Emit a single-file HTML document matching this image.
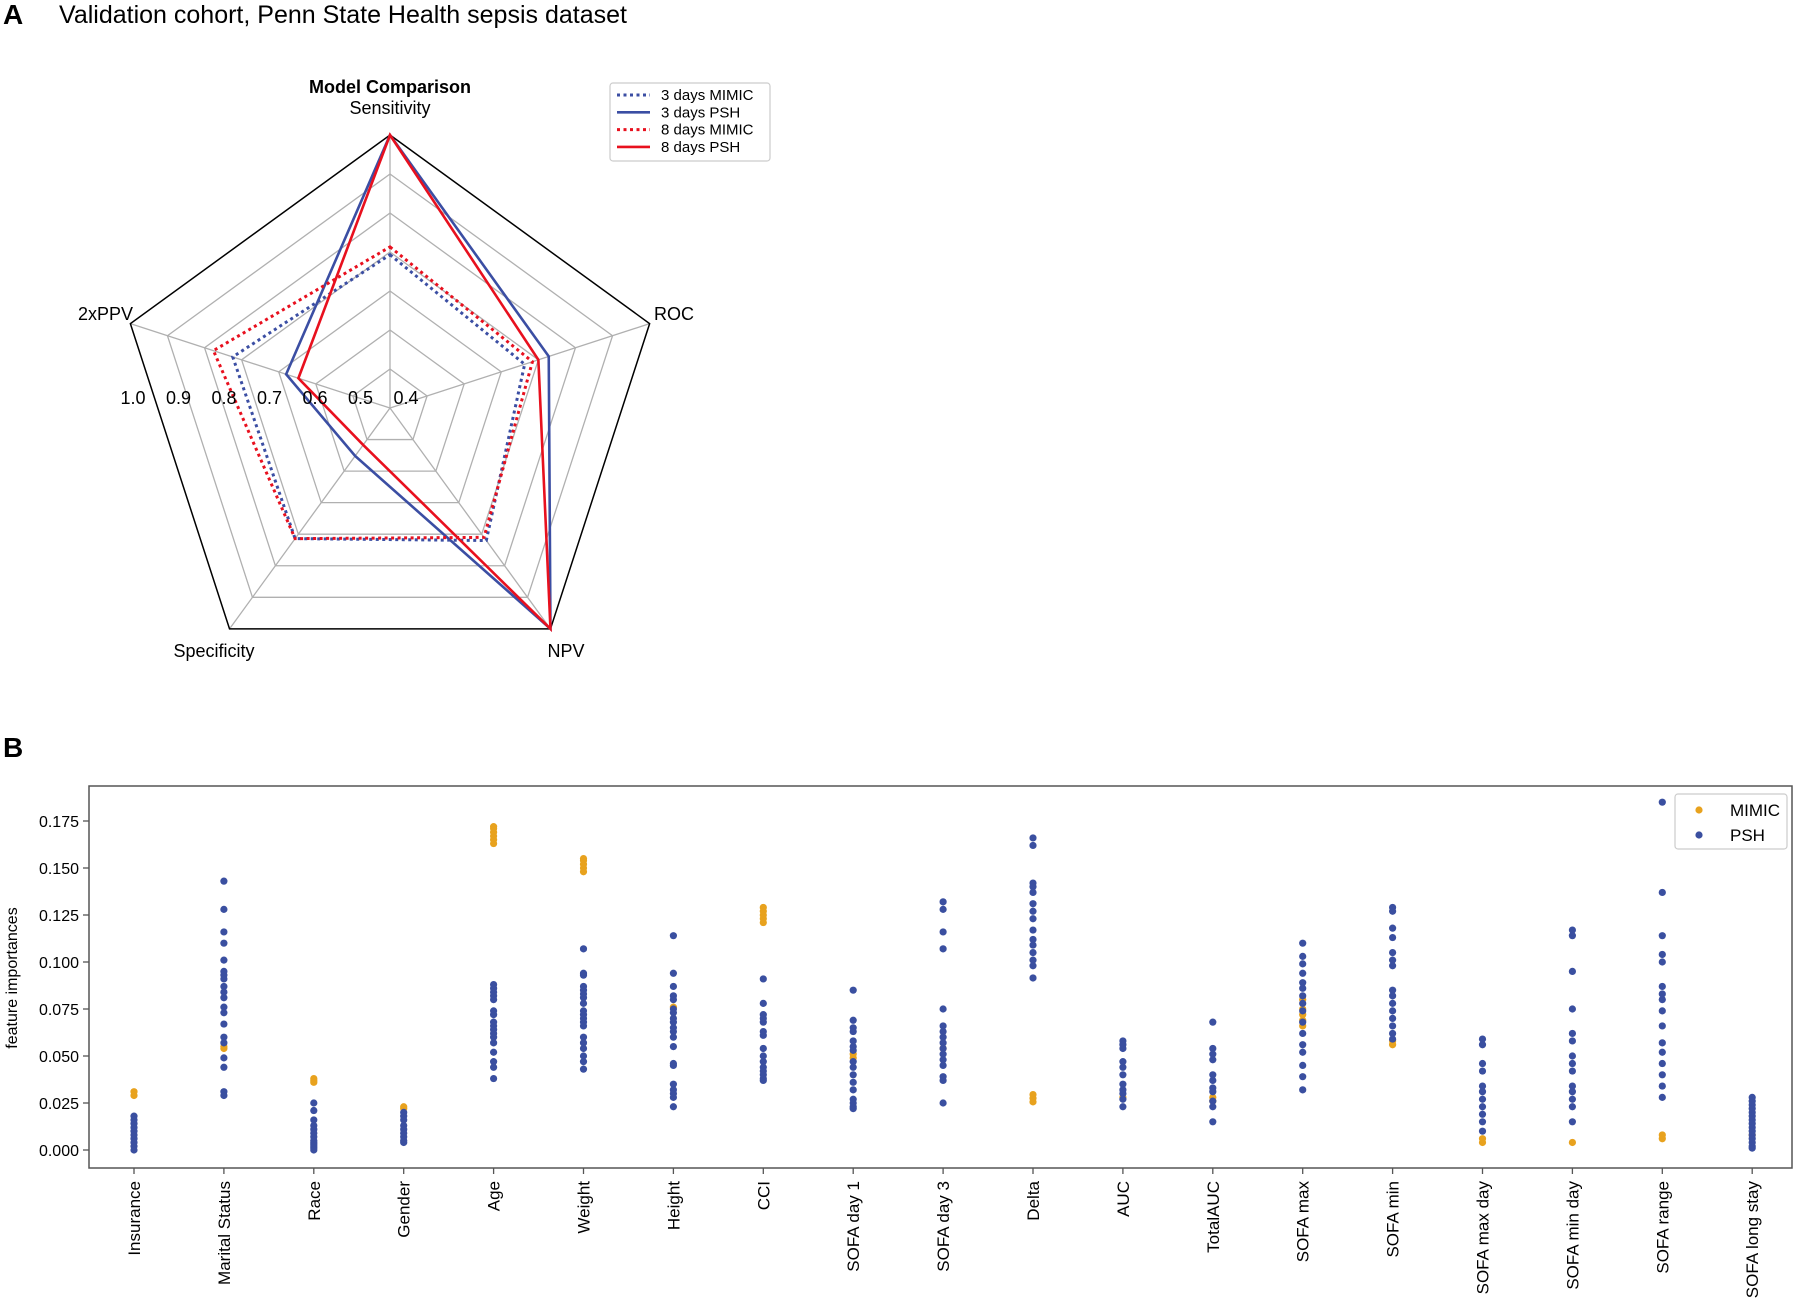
<!DOCTYPE html>
<html><head><meta charset="utf-8"><style>
body{margin:0;background:#fff;width:1800px;height:1310px;overflow:hidden}
svg{display:block;font-family:"Liberation Sans","DejaVu Sans",sans-serif}
</style></head><body>
<svg id="fig" width="1800" height="1310" viewBox="0 0 1800 1310">
<text x="3" y="24" font-size="28" font-weight="bold">A</text>
<text x="59" y="23" font-size="25">Validation cohort, Penn State Health sepsis dataset</text>
<text x="3" y="757" font-size="28" font-weight="bold">B</text>
<g id="radar"></g>
<g id="scatter"></g>
</svg>
<script>
// ---- Radar data ----
const radarAxes = ["Sensitivity","ROC","NPV","Specificity","2xPPV"];
const radarTicks = [1.0,0.9,0.8,0.7,0.6,0.5,0.4];
const s3MIMIC = [0.693,0.663,0.72,0.714,0.724];
const s3PSH   = [1.0,0.728,1.0,0.452,0.58];
const s8MIMIC = [0.713,0.684,0.71,0.714,0.776];
const s8PSH   = [1.0,0.70,1.0,0.417,0.547];
const seriesNames = ["3 days MIMIC","3 days PSH","8 days MIMIC","8 days PSH"];

// ---- Scatter data ----
const categories = ["Insurance","Marital Status","Race","Gender","Age","Weight","Height","CCI","SOFA day 1","SOFA day 3","Delta","AUC","TotalAUC","SOFA max","SOFA min","SOFA max day","SOFA min day","SOFA range","SOFA long stay"];
const yTicks = [0.000,0.025,0.050,0.075,0.100,0.125,0.150,0.175];
const yTickLabels = ["0.000","0.025","0.050","0.075","0.100","0.125","0.150","0.175"];
const psh = [
 [0.018,0.016,0.014,0.012,0.010,0.008,0.006,0.004,0.002,0.0],
 [0.143,0.128,0.116,0.110,0.101,0.095,0.093,0.091,0.087,0.084,0.081,0.076,0.073,0.067,0.060,0.057,0.049,0.044,0.031,0.029],
 [0.025,0.021,0.016,0.013,0.011,0.009,0.007,0.005,0.004,0.003,0.002,0.001,0.0],
 [0.020,0.018,0.016,0.013,0.011,0.009,0.007,0.005,0.004],
 [0.088,0.086,0.084,0.082,0.080,0.074,0.072,0.068,0.066,0.064,0.062,0.060,0.057,0.052,0.047,0.044,0.038],
 [0.107,0.094,0.093,0.087,0.085,0.083,0.081,0.078,0.074,0.072,0.070,0.068,0.066,0.060,0.057,0.054,0.050,0.047,0.043],
 [0.114,0.094,0.087,0.082,0.080,0.075,0.073,0.070,0.068,0.065,0.063,0.060,0.055,0.046,0.045,0.035,0.032,0.030,0.028,0.023],
 [0.091,0.078,0.072,0.070,0.068,0.063,0.061,0.054,0.050,0.047,0.044,0.042,0.040,0.038,0.037],
 [0.085,0.069,0.065,0.063,0.058,0.055,0.053,0.047,0.044,0.040,0.036,0.032,0.027,0.025,0.023,0.022],
 [0.132,0.128,0.116,0.107,0.075,0.066,0.063,0.060,0.057,0.054,0.051,0.048,0.045,0.039,0.037,0.025],
 [0.166,0.162,0.142,0.140,0.137,0.131,0.127,0.123,0.117,0.112,0.109,0.105,0.101,0.098,0.0915],
 [0.058,0.056,0.054,0.047,0.044,0.040,0.035,0.032,0.030,0.027,0.023],
 [0.068,0.054,0.051,0.048,0.040,0.037,0.033,0.031,0.026,0.023,0.015],
 [0.110,0.103,0.099,0.094,0.089,0.086,0.082,0.078,0.074,0.068,0.062,0.056,0.052,0.045,0.039,0.032],
 [0.129,0.127,0.118,0.113,0.105,0.101,0.098,0.085,0.082,0.078,0.074,0.070,0.066,0.062,0.059],
 [0.059,0.056,0.046,0.042,0.034,0.031,0.027,0.023,0.019,0.015,0.010],
 [0.117,0.114,0.095,0.075,0.062,0.058,0.050,0.046,0.042,0.034,0.031,0.027,0.023,0.015],
 [0.185,0.137,0.114,0.104,0.100,0.087,0.083,0.080,0.074,0.066,0.057,0.052,0.046,0.040,0.034,0.028],
 [0.028,0.026,0.024,0.022,0.020,0.018,0.016,0.014,0.012,0.010,0.008,0.006,0.004,0.002,0.001]
];
const mimic = [
 [0.029,0.031],[0.054,0.055],[0.036,0.037,0.038],[0.022,0.023],
 [0.163,0.165,0.167,0.169,0.171,0.172],[0.148,0.150,0.152,0.154,0.155],[0.076],
 [0.121,0.123,0.125,0.127,0.129],[0.049,0.051],[0.054],[0.0295,0.0275,0.0256],
 [0.028],[0.028,0.026],[0.080,0.075,0.072,0.069,0.066],[0.056,0.058],
 [0.006,0.004],[0.004],[0.008,0.006],[0.008]
];

const NS="http://www.w3.org/2000/svg";
function mk(tag,attrs,parent){const e=document.createElementNS(NS,tag);for(const k in attrs)e.setAttribute(k,attrs[k]);parent.appendChild(e);return e;}

// ---- Radar drawing ----
const radar=document.getElementById('radar');
const cx=390,cy=408,R=273,rmin=0.3,rmax=1.0;
function rScale(v){return (v-rmin)/(rmax-rmin)*R;}
function ang(i){return (90-72*i)*Math.PI/180;}
function pt(i,v){const r=rScale(v);return [cx+r*Math.cos(ang(i)),cy-r*Math.sin(ang(i))];}
[0.4,0.5,0.6,0.7,0.8,0.9].forEach(t=>{
  const p=radarAxes.map((a,i)=>pt(i,t).join(',')).join(' ');
  const g=mk('polygon',{points:p,fill:'none',stroke:'#b0b0b0','stroke-width':1.3},radar);
  
  
});
radarAxes.forEach((a,i)=>{
  const [x,y]=pt(i,1.0);
  const l=mk('line',{x1:cx,y1:cy,x2:x,y2:y,stroke:'#b0b0b0','stroke-width':1.3},radar);
  
  
});
const outer=mk('polygon',{points:radarAxes.map((a,i)=>pt(i,1.0).join(',')).join(' '),fill:'none',stroke:'#000','stroke-width':1.5},radar);


const sers=[[s3MIMIC,'#3b4ea3',true],[s3PSH,'#3b4ea3',false],[s8MIMIC,'#e8101e',true],[s8PSH,'#e8101e',false]];
sers.forEach((s,k)=>{
  const p=s[0].map((v,i)=>pt(i,v).join(',')).join(' ');
  const a={points:p,fill:'none',stroke:s[1],'stroke-width':s[2]?3:2.6,'stroke-linejoin':'miter'};
  if(s[2]) a['stroke-dasharray']='3,3.5';
  const e=mk('polygon',a,radar);
  
  
});
// tick labels
radarTicks.forEach((t,i)=>{
  const e=mk('text',{x:133+i*45.5,y:404,'font-size':18,'text-anchor':'middle'},radar);
  e.textContent=t.toFixed(1);
  
  
});
const axLab=[[390,114,'middle'],[654,320,'start'],[566,657,'middle'],[214,657,'middle'],[133,320,'end']];
radarAxes.forEach((a,i)=>{
  const e=mk('text',{x:axLab[i][0],y:axLab[i][1],'font-size':18,'text-anchor':axLab[i][2]},radar);
  e.textContent=a;
  
  
});
const mt=mk('text',{x:390,y:93,'font-size':18,'font-weight':'bold','text-anchor':'middle'},radar);
mt.textContent='Model Comparison';


// radar legend
const lg=mk('g',{},radar);


mk('rect',{x:610,y:83,width:160,height:78,rx:3,fill:'#fff',stroke:'#ccc','stroke-width':1.2},lg);
sers.forEach((s,k)=>{
  const y=95+k*17.3;
  const a={x1:617,y1:y,x2:650,y2:y,stroke:s[1],'stroke-width':s[2]?3:2.6};
  if(s[2])a['stroke-dasharray']='3,3.5';
  mk('line',a,lg);
  const t=mk('text',{x:661,y:y+5,'font-size':15},lg);
  t.textContent=seriesNames[k];
  
  
});

// ---- Scatter drawing ----
const sc=document.getElementById('scatter');
const L=89,T=786,Rr=1792,B=1168;
function xPos(i){return 134+i*89.9;}
function yPos(v){return 1150-v*1880;}
const frame=mk('rect',{x:L,y:T,width:Rr-L,height:B-T,fill:'none',stroke:'#555','stroke-width':1.5},sc);


yTicks.forEach((t,i)=>{
  const y=yPos(t);
  mk('line',{x1:L-6,y1:y,x2:L,y2:y,stroke:'#555','stroke-width':1.3},sc);
  const e=mk('text',{x:L-10,y:y+6,'font-size':16,'text-anchor':'end'},sc);
  e.textContent=yTickLabels[i];
  
  
});
categories.forEach((c,i)=>{
  const x=xPos(i);
  mk('line',{x1:x,y1:B,x2:x,y2:B+6,stroke:'#555','stroke-width':1.3},sc);
  const e=mk('text',{x:0,y:0,'font-size':17,'text-anchor':'end',transform:`translate(${x+6},${B+13}) rotate(-90)`},sc);
  e.textContent=c;
  
  
});
const yl=mk('text',{x:0,y:0,'font-size':16,'text-anchor':'middle',transform:'translate(17,978) rotate(-90)'},sc);
yl.textContent='feature importances';


mimic.forEach((arr,i)=>arr.forEach(v=>{
  const d=mk('circle',{cx:xPos(i),cy:yPos(v),r:3.6,fill:'#e8a21e'},sc);
  
  
}));
psh.forEach((arr,i)=>arr.forEach(v=>{
  const d=mk('circle',{cx:xPos(i),cy:yPos(v),r:3.6,fill:'#3a4fa0'},sc);
  
  
}));
const sl=mk('g',{},sc);


mk('rect',{x:1675,y:794,width:112,height:55,rx:3,fill:'#fff',stroke:'#ccc','stroke-width':1.2},sl);
[['MIMIC','#e8a21e',810],['PSH','#3a4fa0',835]].forEach(e=>{
  mk('circle',{cx:1699,cy:e[2],r:3.6,fill:e[1]},sl);
  const t=mk('text',{x:1730,y:e[2]+6,'font-size':17},sl);
  t.textContent=e[0];
  
  
});
</script>
</body></html>
